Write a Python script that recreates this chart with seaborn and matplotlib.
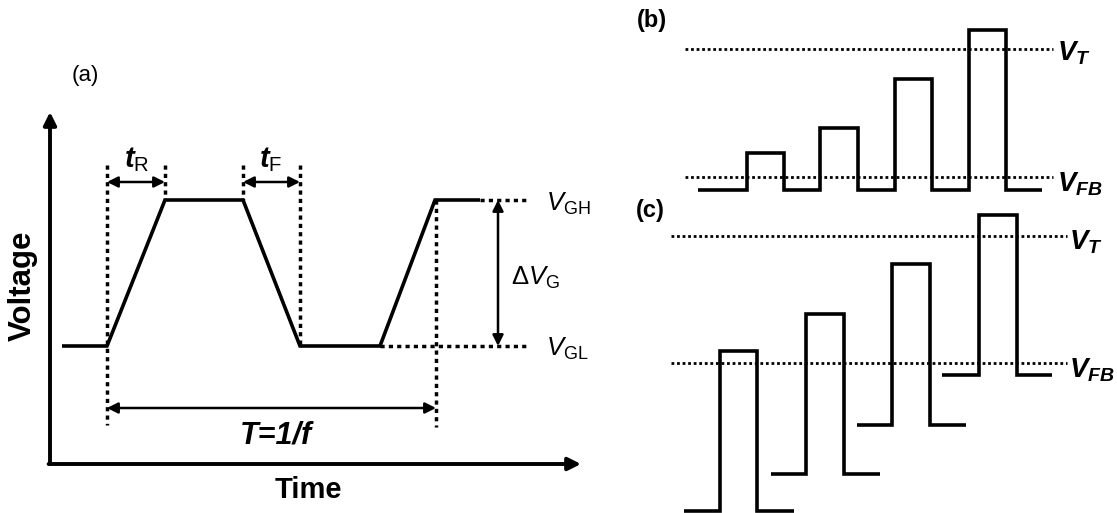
import matplotlib
matplotlib.use("Agg")
import matplotlib.pyplot as plt
import seaborn as sns
import pandas as pd

sns.set_theme(style="white")
plt.rcParams['font.family'] = ['Liberation Sans', 'DejaVu Sans']
plt.rcParams['text.color'] = 'black'
plt.rcParams['mathtext.fontset'] = 'custom'
plt.rcParams['mathtext.rm'] = 'Liberation Sans'
plt.rcParams['mathtext.it'] = 'Liberation Sans:italic'
plt.rcParams['mathtext.bf'] = 'Liberation Sans:bold'
plt.rcParams['mathtext.bfit'] = 'Liberation Sans:bold:italic'

# ---- Panel (a): trapezoidal gate pulse (drawing units, y grows downward) ----
a_time = [62, 107, 165, 243, 300, 380, 435, 480]
a_volt = [346, 346, 200, 200, 346, 346, 200, 200]
a_vgh, a_vgl = 200, 346
a_dotted_x = [107, 165, 243, 300, 436]
a_dotted_top = [165, 165, 165, 165, 200]
a_dotted_bot = [425, 200, 200, 346, 427]

# ---- Panel (b): increasing pulses from a common base ----
b_base = 190
b_tops = [153, 128, 79, 30]
b_rise = [747, 820, 895, 969]
b_fall = [784, 858, 932, 1006]
b_start, b_end = 698, 1042
b_vt, b_vfb = 49, 177

# ---- Panel (c): pulses with stepped bases ----
c_bases = [511, 474, 425, 375]
c_tops = [351, 314, 264, 215]
c_start = [684, 771, 857, 942]
c_rise = [720, 806, 892, 979]
c_fall = [757, 844, 930, 1017]
c_end = [794, 880, 966, 1052]
c_vt, c_vfb = 236, 363

W, H = 1117, 513
fig = plt.figure(figsize=(W / 100, H / 100), dpi=100)
ax = fig.add_axes([0, 0, 1, 1])
ax.set_xlim(0, W)
ax.set_ylim(H, 0)
ax.axis('off')

LW = 2.6


def wave(xs, ys, lw=LW):
    df = pd.DataFrame({'x': xs, 'y': ys})
    sns.lineplot(data=df, x='x', y='y', sort=False, estimator=None,
                 color='black', lw=lw, ax=ax, solid_joinstyle='miter',
                 solid_capstyle='butt')


def dotted(xs, ys, lw=2.2, dash=(1.2, 1.2)):
    ax.plot(xs, ys, color='black', lw=lw, dashes=dash,
            dash_capstyle='butt')


def darrow(p0, p1, lw=1.8, style='<|-|>', ms=16):
    ax.annotate('', xy=p1, xytext=p0,
                arrowprops=dict(arrowstyle=style, color='black', lw=lw,
                                mutation_scale=ms, shrinkA=0, shrinkB=0))


# ---------- panel (a) ----------
darrow((50, 464), (50, 112), lw=2.8, style='-|>', ms=19)
darrow((48.6, 464), (581, 464), lw=2.8, style='-|>', ms=19)
wave(a_time, a_volt)
for x, t, b in zip(a_dotted_x, a_dotted_top, a_dotted_bot):
    dotted([x, x], [t, b], lw=2.5, dash=(1.2, 1.2))
dotted([480, 530], [a_vgh, a_vgh], lw=2.5)
dotted([380, 530], [a_vgl, a_vgl], lw=2.5)
darrow((107, 182), (165, 182))
darrow((243, 182), (300, 182))
darrow((107, 408), (436, 408))
darrow((498, a_vgh), (498, a_vgl))

ax.text(85, 75, '(a)', fontsize=16, ha='center', va='center')
ax.text(23, 286, 'Voltage', fontsize=22.5, fontweight='bold', rotation=90,
        ha='center', va='center')
ax.text(308, 490, 'Time', fontsize=21, fontweight='bold', ha='center',
        va='center')
ax.text(137, 160, r'$\mathbfit{t}_{\mathrm{R}}$', fontsize=21, ha='center',
        va='center')
ax.text(271, 160, r'$\mathbfit{t}_{\mathrm{F}}$', fontsize=21, ha='center',
        va='center')
ax.text(546, 204, r'$\mathit{V}_{\mathrm{GH}}$', fontsize=18.5, ha='left',
        va='center')
ax.text(546, 349, r'$\mathit{V}_{\mathrm{GL}}$', fontsize=18.5, ha='left',
        va='center')
ax.text(511, 278, r'$\Delta\mathit{V}_{\mathrm{G}}$', fontsize=18.5,
        ha='left', va='center')
ax.text(276, 436, 'T=1/f', fontsize=22, fontweight='bold', style='italic',
        ha='center', va='center')

# ---------- panel (b) ----------
dotted([685, 1053], [b_vt, b_vt], lw=2.0, dash=(1, 1))
dotted([685, 1053], [b_vfb, b_vfb], lw=2.0, dash=(1, 1))
bx, by = [b_start], [b_base]
for r, f, t in zip(b_rise, b_fall, b_tops):
    bx += [r, r, f, f]
    by += [b_base, t, t, b_base]
bx.append(b_end)
by.append(b_base)
wave(bx, by)
ax.text(652, 20, '(b)', fontsize=17, fontweight='bold', ha='center',
        va='center')
ax.text(1057, 53, r'$\mathbfit{V}_{\mathbfit{T}}$', fontsize=20,
        ha='left', va='center')
ax.text(1057, 184, r'$\mathbfit{V}_{\mathbfit{FB}}$', fontsize=20,
        ha='left', va='center')

# ---------- panel (c) ----------
dotted([671, 1067], [c_vt, c_vt], lw=2.0, dash=(1, 1))
dotted([671, 1067], [c_vfb, c_vfb], lw=2.0, dash=(1, 1))
for s, r, f, e, b, t in zip(c_start, c_rise, c_fall, c_end, c_bases, c_tops):
    wave([s, r, r, f, f, e], [b, b, t, t, b, b])
ax.text(650, 211, '(c)', fontsize=17, fontweight='bold', ha='center',
        va='center')
ax.text(1069, 242, r'$\mathbfit{V}_{\mathbfit{T}}$', fontsize=20,
        ha='left', va='center')
ax.text(1069, 370, r'$\mathbfit{V}_{\mathbfit{FB}}$', fontsize=20,
        ha='left', va='center')

fig.savefig('out.png', dpi=100)
